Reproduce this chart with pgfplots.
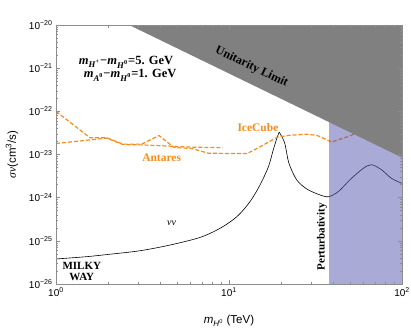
\documentclass[border=0pt]{standalone}
\usepackage{fontspec}
\setmainfont{Liberation Serif}
\setsansfont{Liberation Sans}
\usepackage{pgfplots}
\pgfplotsset{compat=1.18}
\usetikzlibrary{calc}

\definecolor{limorange}{RGB}{245,140,30}
\definecolor{pertblue}{RGB}{85,85,175}
\definecolor{unigray}{RGB}{128,128,128}
\definecolor{framegray}{RGB}{140,140,140}

\begin{document}
\begin{tikzpicture}
\begin{axis}[
  name=ax,
  scale only axis,
  width=346pt, height=259pt,
  xmode=log, ymode=log,
  log basis x=10, log basis y=10,
  xmin=1, xmax=100, ymin=1e-26, ymax=1e-20,
  axis on top,
  axis line style={framegray, line width=0.6pt},
  tick style={framegray, line width=0.5pt},
  tick align=inside,
  major tick length=4.5pt, minor tick length=2.5pt,
  xticklabel={\pgfmathtruncatemacro\e{round(\tick)}\textsf{10\textsuperscript{\e}}},
  yticklabel={\pgfmathtruncatemacro\e{round(-\tick)}\textsf{10\textsuperscript{−\e}}},
  ticklabel style={font=\fontsize{10}{12}\selectfont},
  xlabel={\textsf{\itshape m}\textsubscript{\textsf{\itshape H}\textsuperscript{\textsf{0}}}\textsf{ (TeV)}},
  label style={font=\fontsize{11.5}{13}\selectfont},
  xlabel style={at={(axis description cs:0.5,-0.143)}, anchor=center},
]

% nu nu channel, left branch up to the resonance
\addplot[black, line width=0.6pt, smooth, tension=0.5] coordinates {
  (1,3.8e-26) (1.5,4.3e-26) (2.05,4.9e-26) (3.06,5.9e-26) (4.56,8.0e-26)
  (6.8,1.2e-25) (8.87,1.95e-25) (11.08,3.6e-25) (13.2,8.0e-25) (15.1,1.96e-24)
  (16.9,5.2e-24) (18.0,1.26e-23) (18.9,2.36e-23) (19.5,3.3e-23)
};
% nu nu channel, right branch
\addplot[black, line width=0.6pt, smooth, tension=0.5] coordinates {
  (19.5,3.3e-23) (20.3,2.5e-23) (21.1,1.7e-23) (22.2,6.3e-24) (24.6,2.6e-24)
  (28.1,1.6e-24) (32.8,1.2e-24) (37.5,1.05e-24) (43,1.4e-24) (50,2.6e-24)
  (59.8,4.8e-24) (66.8,5.8e-24) (76.3,4.4e-24) (87,2.8e-24) (100,2.15e-24)
};

% IceCube
\addplot[limorange, line width=1.2pt, dash pattern=on 4pt off 2pt] coordinates {
  (1,1e-22) (1.57,2.45e-23) (1.96,2.45e-23) (2.44,1.74e-23) (3.13,1.74e-23)
  (3.94,2.75e-23) (4.81,1.45e-23) (6.08,1.38e-23) (7.6,1.07e-23) (12.7,1.05e-23)
  (15.1,1.5e-23) (18.9,2.5e-23) (22.5,2.8e-23) (28.1,2.94e-23)
  (32.1,2.8e-23) (39.2,1.95e-23) (50,2.7e-23) (55,3.2e-23) (100,3.5e-23)
};

% Antares
\addplot[limorange, line width=1.2pt, dash pattern=on 4pt off 2pt] coordinates {
  (1,1.8e-23) (1.96,2.4e-23) (2.44,1.7e-23) (3.13,1.67e-23) (4.81,1.55e-23)
  (6.08,1.48e-23) (9.2,1.44e-23)
};

% perturbativity region
\addplot[fill=pertblue, fill opacity=0.5, draw=none] coordinates {
  (37.8,1e-26) (100,1e-26) (100,1e-20) (37.8,1e-20)
};

% unitarity limit
\addplot[fill=unigray, draw=none] coordinates {
  (2.65,1e-20) (100,8.5e-24) (100,1e-20)
};

\node[font=\bfseries\fontsize{12.5}{14}\selectfont] at (axis cs:2.54,1.38e-21)
  {\textit{m}\textsubscript{\textit{H}\textsuperscript{+}}−\textit{m}\textsubscript{\textit{H}\textsuperscript{0}}=5. GeV};
\node[font=\bfseries\fontsize{12.5}{14}\selectfont] at (axis cs:2.68,6.9e-22)
  {\textit{m}\textsubscript{\textit{A}\textsuperscript{0}}−\textit{m}\textsubscript{\textit{H}\textsuperscript{0}}=1. GeV};
\node[font=\bfseries\fontsize{12}{14}\selectfont, rotate=-25.6] at (axis cs:13.5,1.07e-21) {Unitarity Limit};
\node[font=\bfseries\fontsize{11.5}{13}\selectfont, text=limorange] at (axis cs:14.7,4.3e-23) {IceCube};
\node[font=\bfseries\fontsize{11.5}{13}\selectfont, text=limorange] at (axis cs:4.08,8.2e-24) {Antares};
\node[font=\itshape\fontsize{10}{12}\selectfont] at (axis cs:4.66,2.5e-25) {νν};
\node[font=\bfseries\fontsize{11}{11}\selectfont, align=center] at (axis cs:1.41,2.0e-26) {MILKY\\WAY};
\node[font=\bfseries\fontsize{11}{13}\selectfont, rotate=90] at (axis cs:34.5,1.23e-25) {Perturbativity};
\end{axis}
\node[rotate=90, font=\fontsize{11.5}{13}\selectfont] at ($(ax.west)+(-44pt,0)$)
  {\textit{σv}\textsf{(cm\textsuperscript{3}/s)}};
\pgfresetboundingbox
\path[use as bounding box] ($(ax.south west)+(-56pt,-44pt)$) rectangle ($(ax.north east)+(9pt,25pt)$);
\end{tikzpicture}
\end{document}
